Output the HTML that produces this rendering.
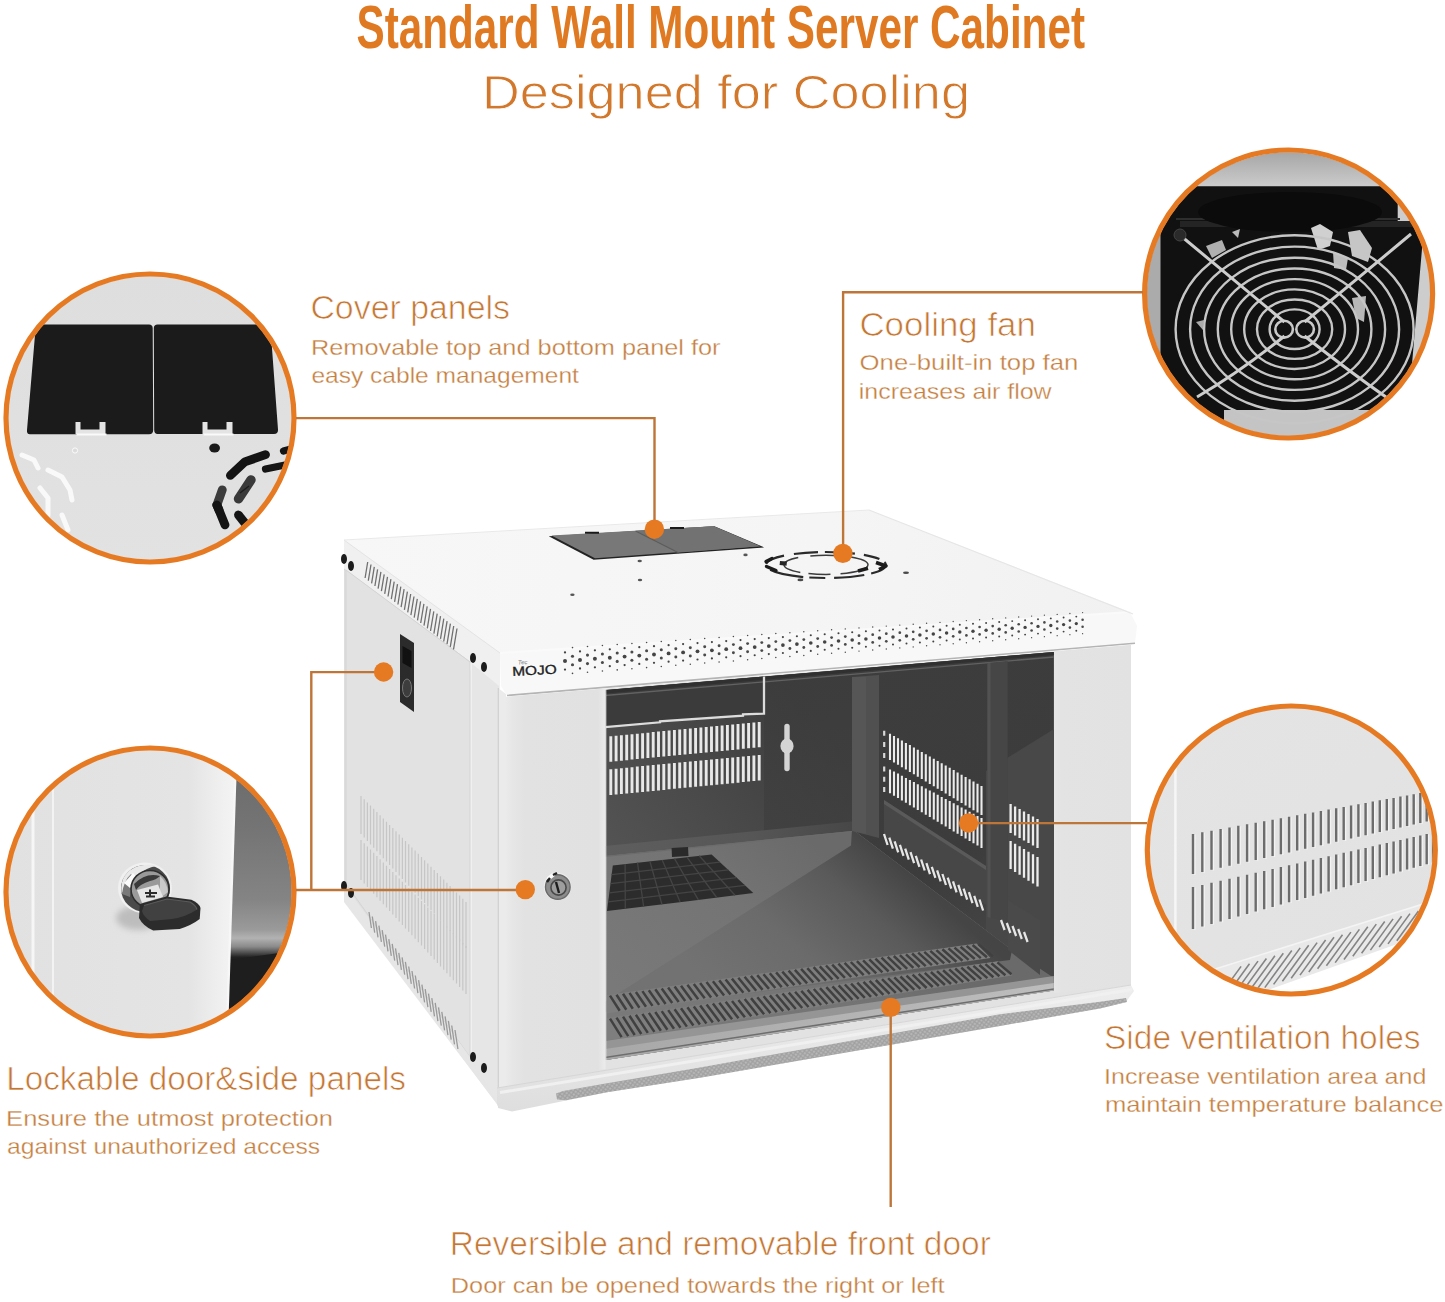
<!DOCTYPE html>
<html><head><meta charset="utf-8"><title>Standard Wall Mount Server Cabinet</title>
<style>
html,body{margin:0;padding:0;background:#fff;}
body{width:1445px;height:1302px;overflow:hidden;font-family:"Liberation Sans",sans-serif;}
svg{display:block;position:absolute;left:0;top:0;}
text{font-family:"Liberation Sans",sans-serif;}
</style></head><body>
<svg width="1445" height="1302" viewBox="0 0 1445 1302">
<defs>
<linearGradient id="gTop" x1="344" y1="540" x2="1130" y2="640" gradientUnits="userSpaceOnUse"><stop offset="0" stop-color="#f7f7f7"/><stop offset="0.6" stop-color="#f5f5f5"/><stop offset="1" stop-color="#f1f1f1"/></linearGradient>
<linearGradient id="gSide" x1="344" y1="700" x2="500" y2="700" gradientUnits="userSpaceOnUse"><stop offset="0" stop-color="#dedede"/><stop offset="0.5" stop-color="#e2e2e2"/><stop offset="1" stop-color="#e3e3e3"/></linearGradient>
<linearGradient id="gDoorL" x1="505" y1="0" x2="605" y2="0" gradientUnits="userSpaceOnUse"><stop offset="0" stop-color="#ebebeb"/><stop offset="0.08" stop-color="#e6e6e6"/><stop offset="0.2" stop-color="#e2e2e2"/><stop offset="0.93" stop-color="#e1e1e1"/><stop offset="1" stop-color="#ebebeb"/></linearGradient>
<linearGradient id="gDoorR" x1="1054" y1="0" x2="1131" y2="0" gradientUnits="userSpaceOnUse"><stop offset="0" stop-color="#e6e6e6"/><stop offset="0.1" stop-color="#e3e3e3"/><stop offset="1" stop-color="#e2e2e2"/></linearGradient>
<linearGradient id="gBack" x1="605" y1="860" x2="800" y2="700" gradientUnits="userSpaceOnUse"><stop offset="0" stop-color="#545454"/><stop offset="0.45" stop-color="#4a4a4a"/><stop offset="1" stop-color="#3d3d3d"/></linearGradient>
<linearGradient id="gBackR" x1="764" y1="680" x2="800" y2="840" gradientUnits="userSpaceOnUse"><stop offset="0" stop-color="#3c3c3c"/><stop offset="1" stop-color="#3f3f3f"/></linearGradient>
<linearGradient id="gRight" x1="851" y1="660" x2="1053" y2="960" gradientUnits="userSpaceOnUse"><stop offset="0" stop-color="#3d3d3d"/><stop offset="0.6" stop-color="#3c3c3c"/><stop offset="1" stop-color="#484848"/></linearGradient>
<linearGradient id="gFloor" x1="800" y1="830" x2="640" y2="1010" gradientUnits="userSpaceOnUse"><stop offset="0" stop-color="#6a6a6a"/><stop offset="0.4" stop-color="#747474"/><stop offset="1" stop-color="#797979"/></linearGradient>
<linearGradient id="gShadow" x1="880" y1="850" x2="740" y2="1010" gradientUnits="userSpaceOnUse"><stop offset="0" stop-color="#454545"/><stop offset="0.25" stop-color="#5a5a5a"/><stop offset="0.6" stop-color="#6b6b6b"/><stop offset="1" stop-color="#727272"/></linearGradient>
<linearGradient id="gLedge" x1="605" y1="0" x2="852" y2="0" gradientUnits="userSpaceOnUse"><stop offset="0" stop-color="#5e5e5e"/><stop offset="0.6" stop-color="#565656"/><stop offset="1" stop-color="#474747"/></linearGradient>
<linearGradient id="gStrip" x1="605" y1="0" x2="1054" y2="0" gradientUnits="userSpaceOnUse"><stop offset="0" stop-color="#a8a8a8"/><stop offset="1" stop-color="#bdbdbd"/></linearGradient>
<linearGradient id="gBase" x1="0" y1="0" x2="0" y2="1" ><stop offset="0" stop-color="#ededed"/><stop offset="0.5" stop-color="#e6e6e6"/><stop offset="1" stop-color="#dedede"/></linearGradient>
<clipPath id="glass"><polygon points="605.8,690.0 1053.8,652.0 1053.8,990.5 605.8,1060.0"/></clipPath>
<pattern id="mesh" width="4.6" height="4.6" patternUnits="userSpaceOnUse" patternTransform="rotate(-9)"><rect width="4.6" height="4.6" fill="#b9b9b9"/><path d="M0 0L4.6 4.6M4.6 0L0 4.6" stroke="#a0a0a0" stroke-width="1.2"/></pattern>
<clipPath id="c1"><circle cx="150" cy="418" r="141.8"/></clipPath>
<linearGradient id="g1" x1="0" y1="270" x2="0" y2="566" gradientUnits="userSpaceOnUse"><stop offset="0" stop-color="#dedede"/><stop offset="0.5" stop-color="#e0e0e0"/><stop offset="1" stop-color="#e2e2e2"/></linearGradient>
<clipPath id="c2"><circle cx="1288.6" cy="294.0" r="141.8"/></clipPath>
<linearGradient id="g2t" x1="0" y1="150" x2="0" y2="187" gradientUnits="userSpaceOnUse"><stop offset="0" stop-color="#a4a4a4"/><stop offset="1" stop-color="#cccccc"/></linearGradient>
<clipPath id="c3"><circle cx="150" cy="892" r="141.8"/></clipPath>
<linearGradient id="g3" x1="0" y1="0" x2="236" y2="0" gradientUnits="userSpaceOnUse"><stop offset="0" stop-color="#e1e1e1"/><stop offset="0.8" stop-color="#e4e4e4"/><stop offset="0.93" stop-color="#efefef"/><stop offset="1" stop-color="#f4f4f4"/></linearGradient>
<linearGradient id="g3r" x1="0" y1="770" x2="0" y2="960" gradientUnits="userSpaceOnUse"><stop offset="0" stop-color="#6c6c6c"/><stop offset="0.3" stop-color="#747474"/><stop offset="0.68" stop-color="#848484"/><stop offset="0.84" stop-color="#9a9a9a"/><stop offset="0.885" stop-color="#b2b2b2"/><stop offset="0.93" stop-color="#8a8a8a"/><stop offset="0.985" stop-color="#222222"/><stop offset="1" stop-color="#1e1e1e"/></linearGradient>
<filter id="blur3" x="-30%" y="-30%" width="160%" height="160%"><feGaussianBlur stdDeviation="3"/></filter>
<clipPath id="c4"><circle cx="1291.3" cy="850.0" r="141.8"/></clipPath>
<linearGradient id="g4" x1="1146" y1="706" x2="1440" y2="996" gradientUnits="userSpaceOnUse"><stop offset="0" stop-color="#e4e4e4"/><stop offset="1" stop-color="#e2e2e2"/></linearGradient>
</defs>
<rect width="1445" height="1302" fill="#ffffff"/>
<polygon points="344.0,540.0 500.0,653.0 500.0,1108.0 344.0,900.0" fill="url(#gSide)" />
<polygon points="344.0,540.0 500.0,653.0 500.0,694.0 344.0,569.0" fill="#f0f0f0" />
<path d="M344 569L470 662" stroke="#d6d6d6" stroke-width="1"/>
<polygon points="346.0,570.0 470.0,662.0 470.0,1057.0 346.0,884.0" fill="#e2e2e2" stroke="#d4d4d4" stroke-width="1"/>
<polygon points="344.0,884.0 470.0,1057.0 500.0,1108.0 344.0,902.0" fill="#e6e6e6" />
<polygon points="471.0,663.0 499.0,686.0 499.0,1106.0 471.0,1060.0" fill="#e6e6e6" />
<path d="M471.3 663V1060" stroke="#f0f0f0" stroke-width="1.4"/>
<polygon points="498.0,688.0 506.0,694.0 506.0,1088.0 498.0,1106.0" fill="#ebebeb" />
<path d="M498.3 688V1106" stroke="#d0d0d0" stroke-width="1.2"/>
<path d="M367.7 562.0l-2.6 16.0M371.0 564.5l-2.7 16.2M374.3 566.9l-2.7 16.4M377.6 569.4l-2.7 16.6M380.9 571.9l-2.8 16.7M384.2 574.3l-2.8 16.9M387.5 576.8l-2.8 17.1M390.9 579.2l-2.9 17.3M394.2 581.7l-2.9 17.5M397.5 584.2l-2.9 17.7M400.8 586.6l-2.9 17.9M404.1 589.1l-3.0 18.0M407.4 591.6l-3.0 18.2M410.7 594.0l-3.0 18.4M414.0 596.5l-3.1 18.6M417.3 598.9l-3.1 18.8M420.6 601.4l-3.1 19.0M423.9 603.9l-3.2 19.1M427.2 606.3l-3.2 19.3M430.5 608.8l-3.2 19.5M433.8 611.3l-3.3 19.7M437.2 613.7l-3.3 19.9M440.5 616.2l-3.3 20.1M443.8 618.6l-3.3 20.3M447.1 621.1l-3.4 20.4M450.4 623.6l-3.4 20.6M453.7 626.0l-3.4 20.8M457.0 628.5l-3.5 21.0" stroke="#707070" stroke-width="1.3" fill="none"/>
<path d="M369.0 912.0l2.4 16.0M372.3 916.5l2.4 16.1M375.6 921.1l2.4 16.2M378.9 925.6l2.5 16.3M382.2 930.2l2.5 16.5M385.5 934.7l2.5 16.6M388.8 939.2l2.5 16.7M392.2 943.8l2.5 16.8M395.5 948.3l2.5 16.9M398.8 952.8l2.6 17.0M402.1 957.4l2.6 17.2M405.4 961.9l2.6 17.3M408.7 966.5l2.6 17.4M412.0 971.0l2.6 17.5M415.3 975.5l2.6 17.6M418.6 980.1l2.7 17.7M421.9 984.6l2.7 17.8M425.2 989.2l2.7 18.0M428.5 993.7l2.7 18.1M431.8 998.2l2.7 18.2M435.2 1002.8l2.7 18.3M438.5 1007.3l2.8 18.4M441.8 1011.8l2.8 18.5M445.1 1016.4l2.8 18.7M448.4 1020.9l2.8 18.8M451.7 1025.5l2.8 18.9M455.0 1030.0l2.9 19.0" stroke="#9a9a9a" stroke-width="1.3" fill="none"/>
<path d="M361.0 796.0V834.0M364.2 799.2V837.5M367.4 802.4V840.9M370.5 805.6V844.4M373.7 808.8V847.8M376.9 812.1V851.3M380.1 815.3V854.7M383.3 818.5V858.2M386.5 821.7V861.6M389.6 824.9V865.1M392.8 828.1V868.5M396.0 831.3V872.0M399.2 834.5V875.5M402.4 837.8V878.9M405.5 841.0V882.4M408.7 844.2V885.8M411.9 847.4V889.3M415.1 850.6V892.7M418.3 853.8V896.2M421.5 857.0V899.6M424.6 860.2V903.1M427.8 863.5V906.5M431.0 866.7V910.0M434.2 869.9V913.5M437.4 873.1V916.9M440.5 876.3V920.4M443.7 879.5V923.8M446.9 882.7V927.3M450.1 885.9V930.7M453.3 889.2V934.2M456.5 892.4V937.6M459.6 895.6V941.1M462.8 898.8V944.5M466.0 902.0V948.0" stroke="#c6c6c6" stroke-width="1.2" fill="none"/>
<path d="M361.0 840.0V880.0M364.2 843.2V883.5M367.4 846.4V886.9M370.5 849.6V890.4M373.7 852.8V893.8M376.9 856.1V897.3M380.1 859.3V900.7M383.3 862.5V904.2M386.5 865.7V907.6M389.6 868.9V911.1M392.8 872.1V914.5M396.0 875.3V918.0M399.2 878.5V921.5M402.4 881.8V924.9M405.5 885.0V928.4M408.7 888.2V931.8M411.9 891.4V935.3M415.1 894.6V938.7M418.3 897.8V942.2M421.5 901.0V945.6M424.6 904.2V949.1M427.8 907.5V952.5M431.0 910.7V956.0M434.2 913.9V959.5M437.4 917.1V962.9M440.5 920.3V966.4M443.7 923.5V969.8M446.9 926.7V973.3M450.1 929.9V976.7M453.3 933.2V980.2M456.5 936.4V983.6M459.6 939.6V987.1M462.8 942.8V990.5M466.0 946.0V994.0" stroke="#c6c6c6" stroke-width="1.2" fill="none"/>
<polygon points="400.0,634.0 414.0,643.0 414.0,712.0 400.0,702.0" fill="#2b2b2b" />
<polygon points="402.5,646.0 411.5,651.0 411.5,668.0 402.5,663.0" fill="#111" />
<ellipse cx="407" cy="688" rx="4.5" ry="9" fill="#3d3d3d" stroke="#777" stroke-width="1"/>
<ellipse cx="344" cy="559" rx="3.0" ry="5.0" fill="#1c1c1c"/>
<ellipse cx="351" cy="566" rx="3.0" ry="5.0" fill="#1c1c1c"/>
<ellipse cx="473" cy="658" rx="3.0" ry="5.0" fill="#1c1c1c"/>
<ellipse cx="484" cy="667" rx="3.0" ry="5.0" fill="#1c1c1c"/>
<ellipse cx="344" cy="886" rx="3.0" ry="5.0" fill="#1c1c1c"/>
<ellipse cx="351" cy="893" rx="3.0" ry="5.0" fill="#1c1c1c"/>
<ellipse cx="473" cy="1057" rx="3.0" ry="5.0" fill="#1c1c1c"/>
<ellipse cx="484" cy="1068" rx="3.0" ry="5.0" fill="#1c1c1c"/>
<polygon points="344.0,540.0 869.0,510.0 1130.0,612.0 500.0,653.0" fill="url(#gTop)" />
<polygon points="500.0,653.0 1130.0,612.0 1137.0,626.0 1135.0,643.3 507.0,695.5 501.0,686.0" fill="#f8f8f8" />
<path d="M507 695.5L1135 643.3" stroke="#b4b4b4" stroke-width="1.6"/>
<path d="M500 653L1130 612" stroke="#fafafa" stroke-width="2"/>
<path d="M344 540L500 653" stroke="#e4e4e4" stroke-width="1"/>
<path d="M869 510L1133 614" stroke="#e6e6e6" stroke-width="1.2"/>
<path d="M344 540L869 510" stroke="#e9e9e9" stroke-width="1"/>
<polygon points="548.7,536.2 714.4,526.2 764.2,547.4 593.6,559.8" fill="#232323" />
<polygon points="551.5,535.6 713.5,526.3 760.0,546.3 595.0,558.2" fill="#787878" />
<polygon points="636.0,530.8 713.5,526.3 760.0,546.3 679.0,552.6" fill="#727272" />
<path d="M635.5 531L679 553" stroke="#5c5c5c" stroke-width="1.2"/>
<path d="M585 532.8h14M670 528h14" stroke="#1a1a1a" stroke-width="2"/>
<ellipse cx="639.7" cy="561" rx="2.2" ry="1.3" fill="#555"/>
<ellipse cx="572.4" cy="594.7" rx="2.2" ry="1.3" fill="#555"/>
<ellipse cx="745.5" cy="554.9" rx="2.2" ry="1.3" fill="#555"/>
<ellipse cx="640" cy="580" rx="2.2" ry="1.3" fill="#555"/>
<ellipse cx="825.9" cy="565" rx="60" ry="13" fill="none" stroke="#2a2a2a" stroke-width="2.2" stroke-dasharray="24 7 30 9 16 6 34 8 20 10" stroke-dashoffset="6"/>
<ellipse cx="826" cy="564.8" rx="42" ry="9.6" fill="none" stroke="#3c3c3c" stroke-width="1.5" stroke-dasharray="30 10 22 8 36 12"/>
<path d="M766 561.5L772 558.5M766.5 566.5L776 570.5" stroke="#1c1c1c" stroke-width="3.4" stroke-linecap="round"/>
<path d="M876 562.5L886 566L879 569.5M858 571L868 568.2" stroke="#1c1c1c" stroke-width="3.6" stroke-linejoin="round" fill="none"/>
<rect x="779.8" y="561.2" width="7" height="4.2" fill="#262626" transform="rotate(6 783 563)"/>
<ellipse cx="800.4" cy="579.9" rx="3" ry="1.3" fill="#4a4a4a"/>
<ellipse cx="906" cy="572.7" rx="3" ry="1.3" fill="#4a4a4a"/>
<circle cx="565.0" cy="661.0" r="2.00" fill="#444"/>
<circle cx="565.0" cy="652.4" r="1.15" fill="#444"/>
<circle cx="565.0" cy="669.6" r="1.15" fill="#444"/>
<circle cx="572.5" cy="656.2" r="1.55" fill="#4a4a4a"/>
<circle cx="572.5" cy="664.8" r="1.55" fill="#4a4a4a"/>
<circle cx="572.5" cy="647.6" r="0.80" fill="#4a4a4a"/>
<circle cx="572.5" cy="673.4" r="0.80" fill="#4a4a4a"/>
<circle cx="580.0" cy="659.9" r="1.99" fill="#444"/>
<circle cx="580.0" cy="651.4" r="1.14" fill="#444"/>
<circle cx="580.0" cy="668.5" r="1.14" fill="#444"/>
<circle cx="587.5" cy="655.1" r="1.54" fill="#4a4a4a"/>
<circle cx="587.5" cy="663.6" r="1.54" fill="#4a4a4a"/>
<circle cx="587.5" cy="646.5" r="0.80" fill="#4a4a4a"/>
<circle cx="587.5" cy="672.2" r="0.80" fill="#4a4a4a"/>
<circle cx="594.9" cy="658.8" r="1.98" fill="#444"/>
<circle cx="594.9" cy="650.3" r="1.14" fill="#444"/>
<circle cx="594.9" cy="667.3" r="1.14" fill="#444"/>
<circle cx="602.4" cy="654.0" r="1.53" fill="#4a4a4a"/>
<circle cx="602.4" cy="662.5" r="1.53" fill="#4a4a4a"/>
<circle cx="602.4" cy="645.5" r="0.79" fill="#4a4a4a"/>
<circle cx="602.4" cy="671.0" r="0.79" fill="#4a4a4a"/>
<circle cx="609.8" cy="657.7" r="1.97" fill="#444"/>
<circle cx="609.8" cy="649.3" r="1.13" fill="#444"/>
<circle cx="609.8" cy="666.2" r="1.13" fill="#444"/>
<circle cx="617.2" cy="653.0" r="1.53" fill="#4a4a4a"/>
<circle cx="617.2" cy="661.4" r="1.53" fill="#4a4a4a"/>
<circle cx="617.2" cy="644.5" r="0.79" fill="#4a4a4a"/>
<circle cx="617.2" cy="669.9" r="0.79" fill="#4a4a4a"/>
<circle cx="624.6" cy="656.6" r="1.96" fill="#444"/>
<circle cx="624.6" cy="648.2" r="1.13" fill="#444"/>
<circle cx="624.6" cy="665.1" r="1.13" fill="#444"/>
<circle cx="631.9" cy="651.9" r="1.52" fill="#4a4a4a"/>
<circle cx="631.9" cy="660.3" r="1.52" fill="#4a4a4a"/>
<circle cx="631.9" cy="643.5" r="0.78" fill="#4a4a4a"/>
<circle cx="631.9" cy="668.7" r="0.78" fill="#4a4a4a"/>
<circle cx="639.3" cy="655.6" r="1.95" fill="#444"/>
<circle cx="639.3" cy="647.2" r="1.12" fill="#444"/>
<circle cx="639.3" cy="663.9" r="1.12" fill="#444"/>
<circle cx="646.6" cy="650.8" r="1.51" fill="#4a4a4a"/>
<circle cx="646.6" cy="659.2" r="1.51" fill="#4a4a4a"/>
<circle cx="646.6" cy="642.5" r="0.78" fill="#4a4a4a"/>
<circle cx="646.6" cy="667.6" r="0.78" fill="#4a4a4a"/>
<circle cx="654.0" cy="654.5" r="1.94" fill="#444"/>
<circle cx="654.0" cy="646.2" r="1.11" fill="#444"/>
<circle cx="654.0" cy="662.8" r="1.11" fill="#444"/>
<circle cx="661.3" cy="649.8" r="1.50" fill="#4a4a4a"/>
<circle cx="661.3" cy="658.1" r="1.50" fill="#4a4a4a"/>
<circle cx="661.3" cy="641.5" r="0.78" fill="#4a4a4a"/>
<circle cx="661.3" cy="666.5" r="0.78" fill="#4a4a4a"/>
<circle cx="668.6" cy="653.4" r="1.93" fill="#444"/>
<circle cx="668.6" cy="645.2" r="1.11" fill="#444"/>
<circle cx="668.6" cy="661.7" r="1.11" fill="#444"/>
<circle cx="675.8" cy="648.8" r="1.49" fill="#4a4a4a"/>
<circle cx="675.8" cy="657.0" r="1.49" fill="#4a4a4a"/>
<circle cx="675.8" cy="640.5" r="0.77" fill="#4a4a4a"/>
<circle cx="675.8" cy="665.3" r="0.77" fill="#4a4a4a"/>
<circle cx="683.1" cy="652.4" r="1.92" fill="#444"/>
<circle cx="683.1" cy="644.1" r="1.10" fill="#444"/>
<circle cx="683.1" cy="660.6" r="1.10" fill="#444"/>
<circle cx="690.3" cy="647.7" r="1.49" fill="#4a4a4a"/>
<circle cx="690.3" cy="656.0" r="1.49" fill="#4a4a4a"/>
<circle cx="690.3" cy="639.5" r="0.77" fill="#4a4a4a"/>
<circle cx="690.3" cy="664.2" r="0.77" fill="#4a4a4a"/>
<circle cx="697.5" cy="651.3" r="1.91" fill="#444"/>
<circle cx="697.5" cy="643.1" r="1.10" fill="#444"/>
<circle cx="697.5" cy="659.5" r="1.10" fill="#444"/>
<circle cx="704.7" cy="646.7" r="1.48" fill="#4a4a4a"/>
<circle cx="704.7" cy="654.9" r="1.48" fill="#4a4a4a"/>
<circle cx="704.7" cy="638.5" r="0.76" fill="#4a4a4a"/>
<circle cx="704.7" cy="663.1" r="0.76" fill="#4a4a4a"/>
<circle cx="711.9" cy="650.3" r="1.90" fill="#444"/>
<circle cx="711.9" cy="642.1" r="1.09" fill="#444"/>
<circle cx="711.9" cy="658.4" r="1.09" fill="#444"/>
<circle cx="719.1" cy="645.7" r="1.47" fill="#4a4a4a"/>
<circle cx="719.1" cy="653.8" r="1.47" fill="#4a4a4a"/>
<circle cx="719.1" cy="637.5" r="0.76" fill="#4a4a4a"/>
<circle cx="719.1" cy="662.0" r="0.76" fill="#4a4a4a"/>
<circle cx="726.2" cy="649.2" r="1.89" fill="#444"/>
<circle cx="726.2" cy="641.1" r="1.09" fill="#444"/>
<circle cx="726.2" cy="657.3" r="1.09" fill="#444"/>
<circle cx="733.4" cy="644.6" r="1.46" fill="#4a4a4a"/>
<circle cx="733.4" cy="652.7" r="1.46" fill="#4a4a4a"/>
<circle cx="733.4" cy="636.5" r="0.76" fill="#4a4a4a"/>
<circle cx="733.4" cy="660.9" r="0.76" fill="#4a4a4a"/>
<circle cx="740.5" cy="648.2" r="1.88" fill="#444"/>
<circle cx="740.5" cy="640.1" r="1.08" fill="#444"/>
<circle cx="740.5" cy="656.2" r="1.08" fill="#444"/>
<circle cx="747.6" cy="643.6" r="1.46" fill="#4a4a4a"/>
<circle cx="747.6" cy="651.7" r="1.46" fill="#4a4a4a"/>
<circle cx="747.6" cy="635.6" r="0.75" fill="#4a4a4a"/>
<circle cx="747.6" cy="659.7" r="0.75" fill="#4a4a4a"/>
<circle cx="754.7" cy="647.1" r="1.87" fill="#444"/>
<circle cx="754.7" cy="639.1" r="1.07" fill="#444"/>
<circle cx="754.7" cy="655.2" r="1.07" fill="#444"/>
<circle cx="761.8" cy="642.6" r="1.45" fill="#4a4a4a"/>
<circle cx="761.8" cy="650.6" r="1.45" fill="#4a4a4a"/>
<circle cx="761.8" cy="634.6" r="0.75" fill="#4a4a4a"/>
<circle cx="761.8" cy="658.6" r="0.75" fill="#4a4a4a"/>
<circle cx="768.8" cy="646.1" r="1.86" fill="#444"/>
<circle cx="768.8" cy="638.1" r="1.07" fill="#444"/>
<circle cx="768.8" cy="654.1" r="1.07" fill="#444"/>
<circle cx="775.8" cy="641.6" r="1.44" fill="#4a4a4a"/>
<circle cx="775.8" cy="649.6" r="1.44" fill="#4a4a4a"/>
<circle cx="775.8" cy="633.6" r="0.74" fill="#4a4a4a"/>
<circle cx="775.8" cy="657.6" r="0.74" fill="#4a4a4a"/>
<circle cx="782.9" cy="645.1" r="1.85" fill="#444"/>
<circle cx="782.9" cy="637.1" r="1.06" fill="#444"/>
<circle cx="782.9" cy="653.0" r="1.06" fill="#444"/>
<circle cx="789.9" cy="640.6" r="1.43" fill="#4a4a4a"/>
<circle cx="789.9" cy="648.5" r="1.43" fill="#4a4a4a"/>
<circle cx="789.9" cy="632.7" r="0.74" fill="#4a4a4a"/>
<circle cx="789.9" cy="656.5" r="0.74" fill="#4a4a4a"/>
<circle cx="796.9" cy="644.1" r="1.84" fill="#444"/>
<circle cx="796.9" cy="636.2" r="1.06" fill="#444"/>
<circle cx="796.9" cy="651.9" r="1.06" fill="#444"/>
<circle cx="803.8" cy="639.6" r="1.43" fill="#4a4a4a"/>
<circle cx="803.8" cy="647.5" r="1.43" fill="#4a4a4a"/>
<circle cx="803.8" cy="631.7" r="0.74" fill="#4a4a4a"/>
<circle cx="803.8" cy="655.4" r="0.74" fill="#4a4a4a"/>
<circle cx="810.8" cy="643.0" r="1.83" fill="#444"/>
<circle cx="810.8" cy="635.2" r="1.05" fill="#444"/>
<circle cx="810.8" cy="650.9" r="1.05" fill="#444"/>
<circle cx="817.7" cy="638.6" r="1.42" fill="#4a4a4a"/>
<circle cx="817.7" cy="646.5" r="1.42" fill="#4a4a4a"/>
<circle cx="817.7" cy="630.8" r="0.73" fill="#4a4a4a"/>
<circle cx="817.7" cy="654.3" r="0.73" fill="#4a4a4a"/>
<circle cx="824.7" cy="642.0" r="1.82" fill="#444"/>
<circle cx="824.7" cy="634.2" r="1.05" fill="#444"/>
<circle cx="824.7" cy="649.8" r="1.05" fill="#444"/>
<circle cx="831.6" cy="637.6" r="1.41" fill="#4a4a4a"/>
<circle cx="831.6" cy="645.4" r="1.41" fill="#4a4a4a"/>
<circle cx="831.6" cy="629.8" r="0.73" fill="#4a4a4a"/>
<circle cx="831.6" cy="653.2" r="0.73" fill="#4a4a4a"/>
<circle cx="838.5" cy="641.0" r="1.81" fill="#444"/>
<circle cx="838.5" cy="633.3" r="1.04" fill="#444"/>
<circle cx="838.5" cy="648.8" r="1.04" fill="#444"/>
<circle cx="845.3" cy="636.6" r="1.40" fill="#4a4a4a"/>
<circle cx="845.3" cy="644.4" r="1.40" fill="#4a4a4a"/>
<circle cx="845.3" cy="628.9" r="0.72" fill="#4a4a4a"/>
<circle cx="845.3" cy="652.2" r="0.72" fill="#4a4a4a"/>
<circle cx="852.2" cy="640.0" r="1.80" fill="#444"/>
<circle cx="852.2" cy="632.3" r="1.04" fill="#444"/>
<circle cx="852.2" cy="647.7" r="1.04" fill="#444"/>
<circle cx="859.0" cy="635.7" r="1.40" fill="#4a4a4a"/>
<circle cx="859.0" cy="643.4" r="1.40" fill="#4a4a4a"/>
<circle cx="859.0" cy="627.9" r="0.72" fill="#4a4a4a"/>
<circle cx="859.0" cy="651.1" r="0.72" fill="#4a4a4a"/>
<circle cx="865.9" cy="639.0" r="1.79" fill="#444"/>
<circle cx="865.9" cy="631.3" r="1.03" fill="#444"/>
<circle cx="865.9" cy="646.7" r="1.03" fill="#444"/>
<circle cx="872.7" cy="634.7" r="1.39" fill="#4a4a4a"/>
<circle cx="872.7" cy="642.4" r="1.39" fill="#4a4a4a"/>
<circle cx="872.7" cy="627.0" r="0.72" fill="#4a4a4a"/>
<circle cx="872.7" cy="650.0" r="0.72" fill="#4a4a4a"/>
<circle cx="879.5" cy="638.0" r="1.78" fill="#444"/>
<circle cx="879.5" cy="630.4" r="1.02" fill="#444"/>
<circle cx="879.5" cy="645.7" r="1.02" fill="#444"/>
<circle cx="886.3" cy="633.7" r="1.38" fill="#4a4a4a"/>
<circle cx="886.3" cy="641.3" r="1.38" fill="#4a4a4a"/>
<circle cx="886.3" cy="626.1" r="0.71" fill="#4a4a4a"/>
<circle cx="886.3" cy="649.0" r="0.71" fill="#4a4a4a"/>
<circle cx="893.0" cy="637.0" r="1.77" fill="#444"/>
<circle cx="893.0" cy="629.4" r="1.02" fill="#444"/>
<circle cx="893.0" cy="644.6" r="1.02" fill="#444"/>
<circle cx="899.8" cy="632.7" r="1.37" fill="#4a4a4a"/>
<circle cx="899.8" cy="640.3" r="1.37" fill="#4a4a4a"/>
<circle cx="899.8" cy="625.1" r="0.71" fill="#4a4a4a"/>
<circle cx="899.8" cy="647.9" r="0.71" fill="#4a4a4a"/>
<circle cx="906.5" cy="636.0" r="1.76" fill="#444"/>
<circle cx="906.5" cy="628.5" r="1.01" fill="#444"/>
<circle cx="906.5" cy="643.6" r="1.01" fill="#444"/>
<circle cx="913.2" cy="631.8" r="1.37" fill="#4a4a4a"/>
<circle cx="913.2" cy="639.3" r="1.37" fill="#4a4a4a"/>
<circle cx="913.2" cy="624.2" r="0.71" fill="#4a4a4a"/>
<circle cx="913.2" cy="646.9" r="0.71" fill="#4a4a4a"/>
<circle cx="919.9" cy="635.1" r="1.75" fill="#444"/>
<circle cx="919.9" cy="627.6" r="1.01" fill="#444"/>
<circle cx="919.9" cy="642.6" r="1.01" fill="#444"/>
<circle cx="926.6" cy="630.8" r="1.36" fill="#4a4a4a"/>
<circle cx="926.6" cy="638.3" r="1.36" fill="#4a4a4a"/>
<circle cx="926.6" cy="623.3" r="0.70" fill="#4a4a4a"/>
<circle cx="926.6" cy="645.8" r="0.70" fill="#4a4a4a"/>
<circle cx="933.3" cy="634.1" r="1.75" fill="#444"/>
<circle cx="933.3" cy="626.6" r="1.00" fill="#444"/>
<circle cx="933.3" cy="641.6" r="1.00" fill="#444"/>
<circle cx="940.0" cy="629.9" r="1.35" fill="#4a4a4a"/>
<circle cx="940.0" cy="637.3" r="1.35" fill="#4a4a4a"/>
<circle cx="940.0" cy="622.4" r="0.70" fill="#4a4a4a"/>
<circle cx="940.0" cy="644.8" r="0.70" fill="#4a4a4a"/>
<circle cx="946.6" cy="633.1" r="1.74" fill="#444"/>
<circle cx="946.6" cy="625.7" r="1.00" fill="#444"/>
<circle cx="946.6" cy="640.5" r="1.00" fill="#444"/>
<circle cx="953.2" cy="628.9" r="1.35" fill="#4a4a4a"/>
<circle cx="953.2" cy="636.3" r="1.35" fill="#4a4a4a"/>
<circle cx="953.2" cy="621.5" r="0.69" fill="#4a4a4a"/>
<circle cx="953.2" cy="643.8" r="0.69" fill="#4a4a4a"/>
<circle cx="959.8" cy="632.1" r="1.73" fill="#444"/>
<circle cx="959.8" cy="624.8" r="0.99" fill="#444"/>
<circle cx="959.8" cy="639.5" r="0.99" fill="#444"/>
<circle cx="966.4" cy="628.0" r="1.34" fill="#4a4a4a"/>
<circle cx="966.4" cy="635.4" r="1.34" fill="#4a4a4a"/>
<circle cx="966.4" cy="620.6" r="0.69" fill="#4a4a4a"/>
<circle cx="966.4" cy="642.7" r="0.69" fill="#4a4a4a"/>
<circle cx="973.0" cy="631.2" r="1.72" fill="#444"/>
<circle cx="973.0" cy="623.8" r="0.99" fill="#444"/>
<circle cx="973.0" cy="638.5" r="0.99" fill="#444"/>
<circle cx="979.6" cy="627.0" r="1.33" fill="#4a4a4a"/>
<circle cx="979.6" cy="634.4" r="1.33" fill="#4a4a4a"/>
<circle cx="979.6" cy="619.7" r="0.69" fill="#4a4a4a"/>
<circle cx="979.6" cy="641.7" r="0.69" fill="#4a4a4a"/>
<circle cx="986.1" cy="630.2" r="1.71" fill="#444"/>
<circle cx="986.1" cy="622.9" r="0.98" fill="#444"/>
<circle cx="986.1" cy="637.5" r="0.98" fill="#444"/>
<circle cx="992.7" cy="626.1" r="1.32" fill="#4a4a4a"/>
<circle cx="992.7" cy="633.4" r="1.32" fill="#4a4a4a"/>
<circle cx="992.7" cy="618.8" r="0.68" fill="#4a4a4a"/>
<circle cx="992.7" cy="640.7" r="0.68" fill="#4a4a4a"/>
<circle cx="999.2" cy="629.3" r="1.70" fill="#444"/>
<circle cx="999.2" cy="622.0" r="0.98" fill="#444"/>
<circle cx="999.2" cy="636.5" r="0.98" fill="#444"/>
<circle cx="1005.7" cy="625.2" r="1.32" fill="#4a4a4a"/>
<circle cx="1005.7" cy="632.4" r="1.32" fill="#4a4a4a"/>
<circle cx="1005.7" cy="617.9" r="0.68" fill="#4a4a4a"/>
<circle cx="1005.7" cy="639.7" r="0.68" fill="#4a4a4a"/>
<circle cx="1012.2" cy="628.3" r="1.69" fill="#444"/>
<circle cx="1012.2" cy="621.1" r="0.97" fill="#444"/>
<circle cx="1012.2" cy="635.5" r="0.97" fill="#444"/>
<circle cx="1018.7" cy="624.2" r="1.31" fill="#4a4a4a"/>
<circle cx="1018.7" cy="631.5" r="1.31" fill="#4a4a4a"/>
<circle cx="1018.7" cy="617.0" r="0.68" fill="#4a4a4a"/>
<circle cx="1018.7" cy="638.7" r="0.68" fill="#4a4a4a"/>
<circle cx="1025.1" cy="627.4" r="1.68" fill="#444"/>
<circle cx="1025.1" cy="620.2" r="0.97" fill="#444"/>
<circle cx="1025.1" cy="634.6" r="0.97" fill="#444"/>
<circle cx="1031.6" cy="623.3" r="1.30" fill="#4a4a4a"/>
<circle cx="1031.6" cy="630.5" r="1.30" fill="#4a4a4a"/>
<circle cx="1031.6" cy="616.1" r="0.67" fill="#4a4a4a"/>
<circle cx="1031.6" cy="637.7" r="0.67" fill="#4a4a4a"/>
<circle cx="1038.0" cy="626.4" r="1.67" fill="#444"/>
<circle cx="1038.0" cy="619.3" r="0.96" fill="#444"/>
<circle cx="1038.0" cy="633.6" r="0.96" fill="#444"/>
<circle cx="1044.4" cy="622.4" r="1.30" fill="#4a4a4a"/>
<circle cx="1044.4" cy="629.5" r="1.30" fill="#4a4a4a"/>
<circle cx="1044.4" cy="615.2" r="0.67" fill="#4a4a4a"/>
<circle cx="1044.4" cy="636.7" r="0.67" fill="#4a4a4a"/>
<circle cx="1050.8" cy="625.5" r="1.66" fill="#444"/>
<circle cx="1050.8" cy="618.4" r="0.96" fill="#444"/>
<circle cx="1050.8" cy="632.6" r="0.96" fill="#444"/>
<circle cx="1057.2" cy="621.5" r="1.29" fill="#4a4a4a"/>
<circle cx="1057.2" cy="628.6" r="1.29" fill="#4a4a4a"/>
<circle cx="1057.2" cy="614.4" r="0.67" fill="#4a4a4a"/>
<circle cx="1057.2" cy="635.7" r="0.67" fill="#4a4a4a"/>
<circle cx="1063.6" cy="624.6" r="1.65" fill="#444"/>
<circle cx="1063.6" cy="617.5" r="0.95" fill="#444"/>
<circle cx="1063.6" cy="631.6" r="0.95" fill="#444"/>
<circle cx="1069.9" cy="620.6" r="1.28" fill="#4a4a4a"/>
<circle cx="1069.9" cy="627.6" r="1.28" fill="#4a4a4a"/>
<circle cx="1069.9" cy="613.5" r="0.66" fill="#4a4a4a"/>
<circle cx="1069.9" cy="634.7" r="0.66" fill="#4a4a4a"/>
<circle cx="1076.3" cy="623.6" r="1.65" fill="#444"/>
<circle cx="1076.3" cy="616.6" r="0.95" fill="#444"/>
<circle cx="1076.3" cy="630.7" r="0.95" fill="#444"/>
<circle cx="1082.6" cy="619.7" r="1.28" fill="#4a4a4a"/>
<circle cx="1082.6" cy="626.7" r="1.28" fill="#4a4a4a"/>
<circle cx="1082.6" cy="612.6" r="0.66" fill="#4a4a4a"/>
<circle cx="1082.6" cy="633.7" r="0.66" fill="#4a4a4a"/>
<text x="512.5" y="676" font-size="13" font-weight="normal" fill="#1e1e1e" stroke="#1e1e1e" stroke-width="0.35" textLength="44.5" lengthAdjust="spacingAndGlyphs" transform="rotate(-3 512 676)">MOJO</text>
<text x="518" y="664.5" font-size="6" font-style="italic" fill="#777" transform="rotate(-3 518 664)">Tec</text>
<polygon points="505.0,697.0 1131.0,645.0 1131.0,985.0 505.0,1087.0" fill="#e2e2e2" />
<polygon points="505.0,697.0 605.5,688.5 605.5,1069.0 505.0,1087.0" fill="url(#gDoorL)" />
<polygon points="1054.0,651.5 1131.0,645.0 1131.0,985.0 1054.0,993.0" fill="url(#gDoorR)" />
<g clip-path="url(#glass)">
<rect x="600" y="640" width="460" height="430" fill="#6a6a6a"/>
<polygon points="605.0,690.0 852.0,669.0 852.0,829.0 605.0,854.0" fill="url(#gBack)" />
<polygon points="764.0,676.0 852.0,669.0 852.0,829.0 764.0,838.0" fill="url(#gBackR)" opacity="0.75"/>
<polygon points="605.0,690.0 764.0,676.0 764.0,713.4 743.0,714.5 659.0,721.5 605.0,726.6" fill="#3b3b3b" />
<polygon points="852.0,669.0 1054.0,650.0 1054.0,980.0 1012.0,950.0 852.0,829.0" fill="url(#gRight)" />
<polygon points="986.0,771.0 1054.0,729.0 1054.0,980.0 1012.0,950.0 986.0,930.0" fill="#484848" />
<polygon points="605.0,854.0 852.0,829.0 1012.0,950.0 1054.0,978.0 1054.0,995.0 605.0,1066.0" fill="url(#gFloor)" />
<polygon points="852.0,829.0 1012.0,950.0 1010.0,960.0 605.0,1012.0 605.0,1001.7 851.0,845.6" fill="url(#gShadow)" />
<polygon points="605.0,846.0 852.0,821.5 852.0,831.0 605.0,856.0" fill="url(#gLedge)" />
<path d="M605 856.5L852 831.5" stroke="#6c6c6c" stroke-width="1.2"/>
<polygon points="605.0,688.0 1054.0,650.0 1054.0,655.0 605.0,693.5" fill="#303030" />
<path d="M605 695.5L1054 657" stroke="#626262" stroke-width="1.3"/>
<polygon points="852.0,677.0 879.0,675.0 879.0,838.0 852.0,831.0" fill="#505050" />
<polygon points="852.0,677.0 866.0,677.0 866.0,834.0 852.0,831.0" fill="#565656" />
<polygon points="884.0,800.0 986.0,866.0 986.0,905.0 884.0,836.0" fill="#474747" />
<polygon points="884.0,800.0 986.0,866.0 986.0,870.0 884.0,804.0" fill="#5a5a5a" />
<polygon points="987.4,663.0 1007.7,661.0 1007.7,922.0 987.4,917.0" fill="#464646" />
<polygon points="987.4,663.0 990.5,663.0 990.5,918.0 987.4,917.0" fill="#525252" />
<polygon points="1008.0,900.0 1040.0,920.0 1040.0,975.0 1008.0,950.0" fill="#4a4a4a" />
<path d="M605 727.2L660 722.3V721.3L743 715.6V714.4L764 713.6V676" stroke="#dcdcdc" stroke-width="2.3" fill="none"/>
<path d="M610.8 736.2V761.7M616.1 735.7V761.2M621.4 735.2V760.7M626.7 734.7V760.2M632.0 734.2V759.6M637.3 733.7V759.1M642.6 733.2V758.6M647.9 732.7V758.1M653.2 732.1V757.6M658.5 731.6V757.1M663.8 731.1V756.6M669.1 730.6V756.0M674.4 730.1V755.5M679.7 729.6V755.0M685.0 729.1V754.5M690.3 728.6V754.0M695.6 728.0V753.5M700.9 727.5V753.0M706.2 727.0V752.4M711.5 726.5V751.9M716.8 726.0V751.4M722.1 725.5V750.9M727.4 725.0V750.4M732.7 724.5V749.9M738.0 723.9V749.4M743.3 723.4V748.8M748.6 722.9V748.3M753.9 722.4V747.8M759.2 721.9V747.3" stroke="#e8e8e8" stroke-width="2.9" fill="none" />
<path d="M610.8 769.2V795.0M616.1 768.7V794.5M621.4 768.2V794.0M626.7 767.7V793.5M632.0 767.2V792.9M637.3 766.6V792.4M642.6 766.1V791.9M647.9 765.6V791.4M653.2 765.1V790.9M658.5 764.6V790.4M663.8 764.1V789.9M669.1 763.6V789.3M674.4 763.1V788.8M679.7 762.5V788.3M685.0 762.0V787.8M690.3 761.5V787.3M695.6 761.0V786.8M700.9 760.5V786.3M706.2 760.0V785.7M711.5 759.5V785.2M716.8 759.0V784.7M722.1 758.4V784.2M727.4 757.9V783.7M732.7 757.4V783.2M738.0 756.9V782.7M743.3 756.4V782.1M748.6 755.9V781.6M753.9 755.4V781.1M759.2 754.9V780.6" stroke="#e8e8e8" stroke-width="2.9" fill="none" />
<path d="M787 726.5v42" stroke="#d4d4d4" stroke-width="5.4" stroke-linecap="round"/>
<ellipse cx="787" cy="746" rx="6.6" ry="7.4" fill="#d4d4d4"/>
<path d="M890.0 733.8V760.0M894.0 736.1V762.4M898.0 738.3V764.8M901.9 740.6V767.2M905.9 742.9V769.6M909.9 745.1V772.0M913.9 747.4V774.3M917.8 749.7V776.7M921.8 752.0V779.1M925.8 754.2V781.5M929.8 756.5V783.9M933.8 758.8V786.3M937.7 761.0V788.7M941.7 763.3V791.1M945.7 765.6V793.5M949.7 767.8V795.9M953.7 770.1V798.3M957.6 772.4V800.7M961.6 774.7V803.0M965.6 776.9V805.4M969.6 779.2V807.8M973.5 781.5V810.2M977.5 783.7V812.6M981.5 786.0V815.0" stroke="#ececec" stroke-width="2.1" fill="none" />
<path d="M890.0 769.4V793.3M894.0 771.5V795.7M898.0 773.6V798.1M901.9 775.7V800.4M905.9 777.9V802.8M909.9 780.0V805.2M913.9 782.1V807.6M917.8 784.2V809.9M921.8 786.3V812.3M925.8 788.4V814.7M929.8 790.5V817.1M933.8 792.6V819.5M937.7 794.8V821.8M941.7 796.9V824.2M945.7 799.0V826.6M949.7 801.1V829.0M953.7 803.2V831.4M957.6 805.3V833.7M961.6 807.4V836.1M965.6 809.5V838.5M969.6 811.7V840.9M973.5 813.8V843.2M977.5 815.9V845.6M981.5 818.0V848.0" stroke="#ececec" stroke-width="2.1" fill="none" />
<path d="M884.2 730.8v5M884.2 741.9v5M884.2 753.0v5M884.2 766.4v5M884.2 776.7v5M884.2 787.0v5" stroke="#d8d8d8" stroke-width="2.2"/>
<path d="M1010.6 804.0V833.0M1015.1 806.5V835.5M1019.6 809.0V838.0M1024.0 811.5V840.5M1028.5 814.0V843.0M1033.0 816.5V845.5M1037.5 819.0V848.0" stroke="#ececec" stroke-width="2.3" fill="none" />
<path d="M1010.6 841.0V869.0M1015.1 843.7V871.9M1019.6 846.3V874.8M1024.0 849.0V877.8M1028.5 851.7V880.7M1033.0 854.3V883.6M1037.5 857.0V886.5" stroke="#ececec" stroke-width="2.3" fill="none" />
<path d="M884.0 834.0l3.6 11M889.3 837.6l3.6 11M894.6 841.3l3.6 11M899.9 844.9l3.6 11M905.2 848.6l3.6 11M910.5 852.2l3.6 11M915.8 855.8l3.6 11M921.1 859.5l3.6 11M926.4 863.1l3.6 11M931.8 866.8l3.6 11M937.1 870.4l3.6 11M942.4 874.0l3.6 11M947.7 877.7l3.6 11M953.0 881.3l3.6 11M958.3 884.9l3.6 11M963.6 888.6l3.6 11M968.9 892.2l3.6 11M974.2 895.9l3.6 11M979.5 899.5l3.6 11" stroke="#e6e6e6" stroke-width="2.3" fill="none"/>
<path d="M1001.0 920.0l3.6 10M1006.8 923.0l3.6 10M1012.5 926.0l3.6 10M1018.2 929.0l3.6 10M1024.0 932.0l3.6 10" stroke="#e6e6e6" stroke-width="2.3" fill="none"/>
<polygon points="612.8,865.5 711.6,854.4 753.3,893.0 690.0,901.0 607.0,911.0" fill="#2c2c2c" />
<path d="M625.1 864.1L625.3 908.8M637.5 862.7L643.6 906.5M649.9 861.3L661.9 904.2M662.2 860.0L680.1 902.0M674.5 858.6L698.4 899.8M686.9 857.2L716.7 897.5M699.2 855.8L735.0 895.2M611.6 874.6L719.9 862.1M610.5 883.7L728.3 869.8M609.3 892.8L736.6 877.6M608.2 901.9L745.0 885.3" stroke="#444" stroke-width="1.3" fill="none"/>
<polygon points="671.6,848.0 688.0,847.0 688.5,856.0 672.0,857.0" fill="#2a2a2a" />
<polygon points="607.0,995.0 976.5,943.5 990.5,958.0 607.0,1013.5" fill="#7e7e7e" />
<path d="M610.0 995.6L619.7 1010.7M616.5 994.7L626.3 1009.7M623.0 993.8L632.8 1008.7M629.5 992.9L639.4 1007.8M635.9 992.0L646.0 1006.8M642.4 991.1L652.5 1005.9M648.8 990.2L659.1 1004.9M655.3 989.3L665.6 1004.0M661.7 988.4L672.2 1003.0M668.1 987.5L678.7 1002.1M674.6 986.6L685.2 1001.1M681.0 985.7L691.7 1000.2M687.4 984.8L698.2 999.2M693.8 983.9L704.7 998.3M700.1 983.0L711.1 997.4M706.5 982.1L717.6 996.4M712.9 981.2L724.1 995.5M719.2 980.4L730.5 994.5M725.6 979.5L736.9 993.6M731.9 978.6L743.4 992.7M738.3 977.7L749.8 991.7M744.6 976.8L756.2 990.8M750.9 975.9L762.6 989.9M757.2 975.1L769.0 988.9M763.5 974.2L775.3 988.0M769.8 973.3L781.7 987.1M776.1 972.4L788.1 986.2M782.3 971.6L794.4 985.2M788.6 970.7L800.8 984.3M794.9 969.8L807.1 983.4M801.1 968.9L813.4 982.5M807.3 968.1L819.7 981.5M813.6 967.2L826.1 980.6M819.8 966.3L832.4 979.7M826.0 965.5L838.6 978.8M832.2 964.6L844.9 977.9M838.4 963.7L851.2 977.0M844.6 962.9L857.4 976.1M850.8 962.0L863.7 975.2M856.9 961.2L869.9 974.2M863.1 960.3L876.2 973.3M869.3 959.4L882.4 972.4M875.4 958.6L888.6 971.5M881.5 957.7L894.8 970.6M887.7 956.9L901.0 969.7M893.8 956.0L907.2 968.8M899.9 955.2L913.4 967.9M906.0 954.3L919.6 967.0M912.1 953.5L925.7 966.1M918.2 952.6L931.9 965.2M924.3 951.8L938.0 964.3M930.3 950.9L944.2 963.4M936.4 950.1L950.3 962.6M942.4 949.2L956.4 961.7M948.5 948.4L962.5 960.8M954.5 947.6L968.6 959.9M960.6 946.7L974.7 959.0M966.6 945.9L980.8 958.1M972.6 945.0L986.9 957.2M978.6 944.2L992.9 956.4" stroke="#404040" stroke-width="2.5" fill="none"/>
<polygon points="607.0,1018.0 998.0,961.3 1012.0,975.5 607.0,1040.5" fill="#7e7e7e" />
<path d="M610.0 1018.6L621.6 1037.1M616.5 1017.6L628.2 1036.1M623.0 1016.7L634.7 1035.0M629.5 1015.7L641.3 1034.0M635.9 1014.8L647.8 1032.9M642.4 1013.9L654.4 1031.9M648.9 1012.9L660.9 1030.8M655.3 1012.0L667.4 1029.8M661.7 1011.1L674.0 1028.7M668.2 1010.1L680.5 1027.7M674.6 1009.2L686.9 1026.6M681.0 1008.3L693.4 1025.6M687.4 1007.3L699.9 1024.5M693.8 1006.4L706.4 1023.5M700.2 1005.5L712.8 1022.4M706.6 1004.6L719.3 1021.4M712.9 1003.6L725.7 1020.4M719.3 1002.7L732.1 1019.3M725.7 1001.8L738.5 1018.3M732.0 1000.9L744.9 1017.3M738.4 1000.0L751.3 1016.2M744.7 999.0L757.7 1015.2M751.0 998.1L764.1 1014.2M757.3 997.2L770.5 1013.1M763.6 996.3L776.8 1012.1M769.9 995.4L783.2 1011.1M776.2 994.5L789.5 1010.1M782.5 993.5L795.8 1009.0M788.8 992.6L802.2 1008.0M795.1 991.7L808.5 1007.0M801.3 990.8L814.8 1006.0M807.6 989.9L821.1 1005.0M813.8 989.0L827.3 1004.0M820.0 988.1L833.6 1003.0M826.3 987.2L839.9 1001.9M832.5 986.3L846.1 1000.9M838.7 985.4L852.4 999.9M844.9 984.5L858.6 998.9M851.1 983.6L864.8 997.9M857.3 982.7L871.0 996.9M863.5 981.8L877.2 995.9M869.6 980.9L883.4 994.9M875.8 980.0L889.6 993.9M882.0 979.1L895.8 992.9M888.1 978.2L902.0 991.9M894.3 977.3L908.1 990.9M900.4 976.5L914.3 989.9M906.5 975.6L920.4 988.9M912.6 974.7L926.6 988.0M918.7 973.8L932.7 987.0M924.8 972.9L938.8 986.0M930.9 972.0L944.9 985.0M937.0 971.1L951.0 984.0M943.1 970.3L957.1 983.0M949.2 969.4L963.2 982.1M955.2 968.5L969.2 981.1M961.3 967.6L975.3 980.1M967.3 966.7L981.3 979.1M973.4 965.9L987.4 978.1M979.4 965.0L993.4 977.2M985.4 964.1L999.4 976.2M991.4 963.3L1005.4 975.2M997.4 962.4L1011.4 974.3" stroke="#404040" stroke-width="2.5" fill="none"/>
<polygon points="605.0,1041.0 1054.0,976.0 1054.0,995.0 605.0,1066.0" fill="#959595" />
<polygon points="605.0,1049.0 1054.0,983.0 1054.0,995.0 605.0,1066.0" fill="url(#gStrip)" />
<path d="M605 1057.5L1054 989" stroke="#6e6e6e" stroke-width="1.6"/>
</g>
<path d="M605.8 690V1060" stroke="#ededed" stroke-width="1"/>
<circle cx="557.5" cy="886.5" r="13.8" fill="#ececec"/>
<circle cx="557.8" cy="887" r="12.3" fill="#8c8c8c" stroke="#6a6a6a" stroke-width="1.4"/>
<circle cx="558.5" cy="887.5" r="7.6" fill="#9e9e9e" stroke="#4a4a4a" stroke-width="1.6"/>
<path d="M548 879l6 -5" stroke="#fbfbfb" stroke-width="4"/>
<path d="M547 882l3 -4M553 875l4 -2" stroke="#222" stroke-width="2.4"/>
<path d="M556 882l3 11" stroke="#1e1e1e" stroke-width="2.4"/>
<polygon points="497.0,1088.0 1131.0,985.0 1134.0,991.0 1126.0,1002.0 1100.0,1008.4 1000.0,1026.0 700.0,1077.8 607.0,1092.3 512.0,1111.5 498.0,1108.0" fill="url(#gBase)" />
<path d="M497 1088L1131 985" stroke="#d6d6d6" stroke-width="1.0"/>
<path d="M500 1092.5L1132 989.5" stroke="#f0f0f0" stroke-width="3"/>
<polygon points="556.0,1093.5 563.0,1091.0 607.0,1083.3 700.0,1067.4 1000.0,1014.3 1100.0,1001.7 1126.0,998.0 1127.0,1002.0 1100.0,1008.4 1000.0,1026.0 700.0,1077.8 607.0,1092.3 566.0,1100.3 557.0,1099.5" fill="url(#mesh)" />
<g clip-path="url(#c1)">
<rect x="0" y="268" width="300" height="300" fill="url(#g1)"/>
<path d="M40 324.4H149Q152.6 324.4 152.7 328L153.2 430Q153.2 434.2 149 434.2H30Q26.5 434.2 27 430L35.5 329Q36 324.4 40 324.4Z" fill="#1b1b1b"/>
<path d="M157.6 324.4H266Q270 324.4 270.5 328L278 429.5Q278.3 434 274 434H158Q154.2 434.2 154.2 430L153.8 328Q153.9 324.4 157.6 324.4Z" fill="#1b1b1b"/>
<rect x="75.5" y="422" width="30" height="12" fill="#e4e4e4"/>
<rect x="80.5" y="422" width="19" height="7.5" fill="#1b1b1b"/>
<path d="M76.5 434.5h30" stroke="#fafafa" stroke-width="2"/>
<rect x="202.5" y="422" width="30" height="12" fill="#e4e4e4"/>
<rect x="207.5" y="422" width="19" height="7.5" fill="#1b1b1b"/>
<path d="M203.5 434.5h30" stroke="#fafafa" stroke-width="2"/>
<circle cx="75" cy="450.5" r="2.6" fill="#dcdcdc" stroke="#fafafa" stroke-width="1"/>
<ellipse cx="214.6" cy="448" rx="5.4" ry="4.6" fill="#1a1a1a"/>
<path d="M230.4 475.4L244.8 461.9L265.5 454.7" stroke="#141414" stroke-width="8.8" stroke-linecap="round" stroke-linejoin="round" fill="none"/>
<path d="M265.5 469L290 464" stroke="#141414" stroke-width="7.2" stroke-linecap="round" stroke-linejoin="round" fill="none"/>
<path d="M283.5 451L296 447.5" stroke="#141414" stroke-width="7.2" stroke-linecap="round" stroke-linejoin="round" fill="none"/>
<path d="M216.9 505L225 524.9" stroke="#141414" stroke-width="8.8" stroke-linecap="round" stroke-linejoin="round" fill="none"/>
<path d="M222.3 489.8L216.9 505" stroke="#3c3c3c" stroke-width="8.8" stroke-linecap="round" fill="none"/>
<path d="M216.9 505L219 510" stroke="#141414" stroke-width="8.8" stroke-linecap="round" stroke-linejoin="round" fill="none"/>
<path d="M238.5 515L246 524.5" stroke="#141414" stroke-width="8.8" stroke-linecap="round" stroke-linejoin="round" fill="none"/>
<path d="M238.5 498.8L251 479.9" stroke="#3a3a3a" stroke-width="9.4" stroke-linecap="round" fill="none"/>
<path d="M240 493L249 486" stroke="#1c1c1c" stroke-width="1.4" fill="none"/>
<path d="M22 455L34 460L38 468" stroke="#f9f9f9" stroke-width="5" stroke-linecap="round" stroke-linejoin="round" fill="none"/>
<path d="M48 470L62 477L70 490L72 500" stroke="#f9f9f9" stroke-width="5" stroke-linecap="round" stroke-linejoin="round" fill="none"/>
<path d="M40 488L48 498L48 515" stroke="#f9f9f9" stroke-width="5" stroke-linecap="round" stroke-linejoin="round" fill="none"/>
<path d="M62 515L68 530" stroke="#f9f9f9" stroke-width="5" stroke-linecap="round" stroke-linejoin="round" fill="none"/>
</g>
<circle cx="150" cy="418" r="144.0" fill="none" stroke="#E57A23" stroke-width="5.2"/>
<g clip-path="url(#c2)">
<rect x="1140" y="145" width="300" height="300" fill="url(#g2t)"/>
<rect x="1397" y="186" width="50" height="260" fill="#cdcdcd"/>
<polygon points="1160.0,186.2 1397.7,186.2 1397.7,221.0 1424.0,226.0 1408.0,410.0 1224.0,410.0 1224.0,445.0 1160.0,445.0" fill="#111111" />
<rect x="1140" y="186" width="20.5" height="260" fill="#ababab"/>
<path d="M1176 219H1400" stroke="#2e2e2e" stroke-width="2"/>
<path d="M1180 224H1420" stroke="#242424" stroke-width="6"/>
<ellipse cx="1290" cy="212" rx="92" ry="20" fill="#0b0b0b"/>
<rect x="1224" y="410" width="220" height="40" fill="#c4c4c4"/>
<polygon points="1311.0,228.0 1320.0,224.0 1333.0,232.0 1330.0,246.0 1318.0,250.0" fill="#d0d0d0" />
<polygon points="1348.0,232.0 1360.0,230.0 1372.0,248.0 1368.0,262.0 1352.0,256.0" fill="#c6c6c6" />
<polygon points="1333.0,252.0 1348.0,258.0 1346.0,270.0 1334.0,268.0" fill="#bdbdbd" />
<polygon points="1206.0,246.0 1222.0,240.0 1226.0,250.0 1212.0,258.0" fill="#b0b0b0" />
<polygon points="1232.0,232.0 1240.0,229.0 1238.0,238.0" fill="#bbbbbb" />
<polygon points="1352.0,298.0 1366.0,296.0 1364.0,322.0 1356.0,318.0" fill="#b8b8b8" />
<polygon points="1196.0,322.0 1204.0,320.0 1203.0,330.0" fill="#aaaaaa" />
<ellipse cx="1294.6" cy="329.2" rx="119" ry="94.0" fill="none" stroke="#c6c6c6" stroke-width="2.4"/>
<ellipse cx="1294.6" cy="329.2" rx="104.5" ry="82.6" fill="none" stroke="#c6c6c6" stroke-width="2.4"/>
<ellipse cx="1294.6" cy="329.2" rx="90.5" ry="71.5" fill="none" stroke="#c6c6c6" stroke-width="2.4"/>
<ellipse cx="1294.6" cy="329.2" rx="76.8" ry="60.7" fill="none" stroke="#c6c6c6" stroke-width="2.4"/>
<ellipse cx="1294.6" cy="329.2" rx="63.4" ry="50.1" fill="none" stroke="#c6c6c6" stroke-width="2.4"/>
<ellipse cx="1294.6" cy="329.2" rx="50.4" ry="39.8" fill="none" stroke="#c6c6c6" stroke-width="2.4"/>
<ellipse cx="1294.6" cy="329.2" rx="37.6" ry="29.7" fill="none" stroke="#c6c6c6" stroke-width="2.4"/>
<ellipse cx="1294.6" cy="329.2" rx="25" ry="19.8" fill="none" stroke="#c6c6c6" stroke-width="2.4"/>
<ellipse cx="1284.1" cy="329.2" rx="8.8" ry="8.4" fill="none" stroke="#c9c9c9" stroke-width="2.6"/>
<ellipse cx="1305.1" cy="329.2" rx="8.8" ry="8.4" fill="none" stroke="#c9c9c9" stroke-width="2.6"/>
<path d="M1181 236Q1240 285 1284.5 322M1304.5 336Q1350 372 1386 397" stroke="#cdcdcd" stroke-width="3" fill="none"/>
<path d="M1411 234Q1350 285 1304.5 322M1284.5 336Q1240 372 1197 397" stroke="#cdcdcd" stroke-width="3" fill="none"/>
<circle cx="1180" cy="235" r="6" fill="#2a2a2a" stroke="#444" stroke-width="1"/>
</g>
<circle cx="1288.6" cy="294.0" r="144.0" fill="none" stroke="#E57A23" stroke-width="5.2"/>
<g clip-path="url(#c3)">
<rect x="0" y="740" width="300" height="304" fill="url(#g3)"/>
<path d="M33 760V1030" stroke="#f6f6f6" stroke-width="3"/>
<path d="M53 760V1030" stroke="#f3f3f3" stroke-width="2"/>
<polygon points="236.5,740.0 300.0,740.0 300.0,1045.0 226.5,1045.0" fill="url(#g3r)" />
<polygon points="230.0,960.0 300.0,950.0 300.0,1045.0 226.5,1045.0" fill="#1e1e1e" />
<path d="M236.5 740L226.5 1045" stroke="#f7f7f7" stroke-width="2.4"/>
<ellipse cx="138" cy="918" rx="22" ry="12" fill="#bdbdbd" filter="url(#blur3)"/>
<ellipse cx="145" cy="888" rx="27" ry="25.5" fill="#f0f0f0"/>
<ellipse cx="145.5" cy="888.5" rx="24.5" ry="23.5" fill="#4a4a4a"/>
<path d="M121.5 893Q119 872 140 865.5Q150 864 156 866Q136 870 130.5 889Z" fill="#e9e9e9"/>
<path d="M122 894Q124 880 131 874L137 880Q130 888 130 897Z" fill="#7a7a7a"/>
<path d="M124 883L133 873L138.5 879L130 888Z" fill="#fbfbfb"/>
<ellipse cx="150" cy="889" rx="19" ry="18.5" fill="#9a9a9a" stroke="#2e2e2e" stroke-width="1.6"/>
<path d="M134 884Q146 872 160 876Q156 880 150 881Q140 884 136 890Z" fill="#3a3a3a"/>
<path d="M160 876Q167 882 168 892L160 898Z" fill="#c9c9c9"/>
<polygon points="137.0,890.0 158.0,884.5 163.0,897.0 142.0,903.0" fill="#e6e6e6" />
<path d="M145 893h12M150 889.5v7M146 896.5h9" stroke="#2a2a2a" stroke-width="2"/>
<path d="M139.9 904L166.4 896.5L191.4 899.8Q199 903 200.5 908L199.7 919Q192 925 179.7 929L153.2 930.6Q143 926 139 918Z" fill="#2c2c2c"/>
<path d="M144 905.5L167 899L190 902Q196 905.5 197 909.5Q186 917 172 919L150 921Q143 916 142 911Z" fill="#414141"/>
<path d="M144 905.5L167 899L190 902Q196 905.5 197 909.5" stroke="#5a5a5a" stroke-width="1.2" fill="none"/>
</g>
<circle cx="150" cy="892" r="144.0" fill="none" stroke="#E57A23" stroke-width="5.2"/>
<g clip-path="url(#c4)">
<rect x="1140" y="700" width="305" height="300" fill="url(#g4)"/>
<path d="M1175.4 760V960" stroke="#f6f6f6" stroke-width="2.5"/>
<polygon points="1200.0,973.7 1445.0,897.2 1445.0,1000.0 1200.0,1000.0" fill="#e9e9e9" />
<path d="M1200 973.7L1445 897.2" stroke="#f4f4f4" stroke-width="1.6"/>
<path d="M1194.8 834.5V874.8M1204.1 832.8V872.7M1213.3 831.2V870.6M1222.4 829.5V868.6M1231.3 827.9V866.6M1240.1 826.3V864.6M1248.9 824.8V862.6M1257.5 823.2V860.7M1266.0 821.7V858.8M1274.4 820.2V856.9M1282.7 818.7V855.0M1290.9 817.2V853.2M1299.0 815.7V851.4M1307.0 814.3V849.6M1314.9 812.9V847.8M1322.7 811.5V846.1M1330.4 810.1V844.3M1338.0 808.7V842.6M1345.5 807.4V840.9M1352.9 806.0V839.3M1360.2 804.7V837.6M1367.4 803.4V836.0M1374.6 802.1V834.4M1381.6 800.8V832.8M1388.6 799.6V831.3M1395.4 798.4V829.7M1402.2 797.1V828.2M1408.9 795.9V826.7M1415.5 794.7V825.2M1422.1 793.6V823.7M1428.5 792.4V822.3M1434.9 791.2V820.9M1441.2 790.1V819.4" stroke="#f3f3f3" stroke-width="1.6" fill="none"/>
<path d="M1193.0 834.0V874.0M1202.3 832.3V871.9M1211.5 830.7V869.8M1220.6 829.0V867.8M1229.5 827.4V865.8M1238.3 825.8V863.8M1247.1 824.3V861.8M1255.7 822.7V859.9M1264.2 821.2V858.0M1272.6 819.7V856.1M1280.9 818.2V854.2M1289.1 816.7V852.4M1297.2 815.2V850.6M1305.2 813.8V848.8M1313.1 812.4V847.0M1320.9 811.0V845.3M1328.6 809.6V843.5M1336.2 808.2V841.8M1343.7 806.9V840.1M1351.1 805.5V838.5M1358.4 804.2V836.8M1365.6 802.9V835.2M1372.8 801.6V833.6M1379.8 800.3V832.0M1386.8 799.1V830.5M1393.6 797.9V828.9M1400.4 796.6V827.4M1407.1 795.4V825.9M1413.7 794.2V824.4M1420.3 793.1V822.9M1426.7 791.9V821.5M1433.1 790.7V820.1M1439.4 789.6V818.6" stroke="#6c6c6c" stroke-width="2.4" fill="none"/>
<path d="M1194.8 887.5V929.8M1204.1 885.4V927.2M1213.3 883.3V924.7M1222.4 881.3V922.2M1231.3 879.2V919.7M1240.1 877.2V917.2M1248.9 875.2V914.8M1257.5 873.3V912.4M1266.0 871.4V910.1M1274.4 869.4V907.7M1282.7 867.6V905.4M1290.9 865.7V903.1M1299.0 863.9V900.9M1307.0 862.1V898.7M1314.9 860.3V896.5M1322.7 858.5V894.3M1330.4 856.8V892.2M1338.0 855.0V890.1M1345.5 853.3V888.0M1352.9 851.7V886.0M1360.2 850.0V883.9M1367.4 848.4V881.9M1374.6 846.7V879.9M1381.6 845.1V878.0M1388.6 843.6V876.1M1395.4 842.0V874.2M1402.2 840.5V872.3M1408.9 839.0V870.4M1415.5 837.5V868.6M1422.1 836.0V866.8M1428.5 834.5V865.0M1434.9 833.1V863.2M1441.2 831.6V861.5" stroke="#f3f3f3" stroke-width="1.6" fill="none"/>
<path d="M1193.0 887.0V929.0M1202.3 884.9V926.4M1211.5 882.8V923.9M1220.6 880.8V921.4M1229.5 878.7V918.9M1238.3 876.7V916.4M1247.1 874.7V914.0M1255.7 872.8V911.6M1264.2 870.9V909.3M1272.6 868.9V906.9M1280.9 867.1V904.6M1289.1 865.2V902.3M1297.2 863.4V900.1M1305.2 861.6V897.9M1313.1 859.8V895.7M1320.9 858.0V893.5M1328.6 856.3V891.4M1336.2 854.5V889.3M1343.7 852.8V887.2M1351.1 851.2V885.2M1358.4 849.5V883.1M1365.6 847.9V881.1M1372.8 846.2V879.1M1379.8 844.6V877.2M1386.8 843.1V875.3M1393.6 841.5V873.4M1400.4 840.0V871.5M1407.1 838.5V869.6M1413.7 837.0V867.8M1420.3 835.5V866.0M1426.7 834.0V864.2M1433.1 832.6V862.4M1439.4 831.1V860.7" stroke="#6c6c6c" stroke-width="2.4" fill="none"/>
<polygon points="1200.0,1014.1 1445.0,927.1 1445.0,1002.0 1200.0,1002.0" fill="#ffffff" />
<path d="M1212.0 1006.3L1241.1 966.4M1220.8 1003.2L1249.5 963.7M1229.6 1000.1L1258.0 961.1M1238.4 996.9L1266.4 958.5M1247.2 993.8L1274.9 955.8M1256.0 990.7L1283.3 953.2M1264.8 987.6L1291.8 950.5M1273.6 984.4L1300.2 947.9M1282.4 981.3L1308.7 945.3M1291.2 978.2L1317.1 942.6M1300.0 975.1L1325.6 940.0M1308.8 972.0L1334.0 937.3M1317.6 968.8L1342.5 934.7M1326.4 965.7L1350.9 932.1M1335.2 962.6L1359.4 929.4M1344.0 959.5L1367.8 926.8M1352.8 956.3L1376.3 924.1M1361.6 953.2L1384.7 921.5M1370.4 950.1L1393.1 918.9M1379.2 947.0L1401.6 916.2M1388.0 943.9L1410.0 913.6M1396.8 940.7L1418.5 911.0M1405.6 937.6L1426.9 908.3M1414.4 934.5L1435.4 905.7M1423.2 931.4L1443.8 903.0M1432.0 928.2L1452.3 900.4" stroke="#858585" stroke-width="1.6" fill="none"/>
</g>
<circle cx="1291.3" cy="850.0" r="144.0" fill="none" stroke="#E57A23" stroke-width="5.2"/>
<path d="M296 418.1H654.5V529" stroke="#BE7538" stroke-width="2.4" fill="none" stroke-linejoin="miter"/>
<circle cx="654.4" cy="529.2" r="9.7" fill="#E57A23"/>
<path d="M1143 292.2H843.1V553" stroke="#BE7538" stroke-width="2.4" fill="none" stroke-linejoin="miter"/>
<circle cx="842.9" cy="553.4" r="9.7" fill="#E57A23"/>
<path d="M384 672.1H311.3V890M296 890H525" stroke="#BE7538" stroke-width="2.4" fill="none" stroke-linejoin="miter"/>
<circle cx="383.6" cy="672" r="9.7" fill="#E57A23"/>
<circle cx="525.3" cy="889.6" r="9.7" fill="#E57A23"/>
<path d="M968 823.1H1147" stroke="#BE7538" stroke-width="2.4" fill="none" stroke-linejoin="miter"/>
<circle cx="968.6" cy="823" r="9.7" fill="#E57A23"/>
<path d="M890.7 1007V1207" stroke="#BE7538" stroke-width="2.4" fill="none" stroke-linejoin="miter"/>
<circle cx="890.8" cy="1007.4" r="9.7" fill="#E57A23"/>
<text x="356.5" y="48" font-size="61" font-weight="bold" fill="#E07A22" textLength="728.5" lengthAdjust="spacingAndGlyphs">Standard Wall Mount Server Cabinet</text>
<text x="482" y="109" font-size="47.5" font-weight="normal" fill="#D2782C" textLength="488" lengthAdjust="spacingAndGlyphs" stroke="#ffffff" stroke-width="0.9">Designed for Cooling</text>
<text x="310.4" y="319.4" font-size="32.7" font-weight="normal" fill="#C47734" textLength="199.6" lengthAdjust="spacingAndGlyphs" stroke="#ffffff" stroke-width="0.7">Cover panels</text>
<text x="311" y="355.3" font-size="22.3" font-weight="normal" fill="#C57F3F" textLength="409.5" lengthAdjust="spacingAndGlyphs" stroke="#ffffff" stroke-width="0.3">Removable top and bottom panel for</text>
<text x="311.4" y="383.4" font-size="22.3" font-weight="normal" fill="#C57F3F" textLength="267.5" lengthAdjust="spacingAndGlyphs" stroke="#ffffff" stroke-width="0.3">easy cable management</text>
<text x="859.4" y="336" font-size="32.7" font-weight="normal" fill="#C47734" textLength="176.5" lengthAdjust="spacingAndGlyphs" stroke="#ffffff" stroke-width="0.7">Cooling fan</text>
<text x="859.6" y="370.3" font-size="22.3" font-weight="normal" fill="#C57F3F" textLength="218.8" lengthAdjust="spacingAndGlyphs" stroke="#ffffff" stroke-width="0.3">One-built-in top fan</text>
<text x="858.8" y="399" font-size="22.3" font-weight="normal" fill="#C57F3F" textLength="192.8" lengthAdjust="spacingAndGlyphs" stroke="#ffffff" stroke-width="0.3">increases air flow</text>
<text x="6.2" y="1090" font-size="32.7" font-weight="normal" fill="#C47734" textLength="399.8" lengthAdjust="spacingAndGlyphs" stroke="#ffffff" stroke-width="0.7">Lockable door&amp;side panels</text>
<text x="6.1" y="1125.6" font-size="22.3" font-weight="normal" fill="#C57F3F" textLength="326.8" lengthAdjust="spacingAndGlyphs" stroke="#ffffff" stroke-width="0.3">Ensure the utmost protection</text>
<text x="7.1" y="1153.8" font-size="22.3" font-weight="normal" fill="#C57F3F" textLength="313" lengthAdjust="spacingAndGlyphs" stroke="#ffffff" stroke-width="0.3">against unauthorized access</text>
<text x="449.8" y="1255" font-size="32.7" font-weight="normal" fill="#C47734" textLength="541" lengthAdjust="spacingAndGlyphs" stroke="#ffffff" stroke-width="0.7">Reversible and removable front door</text>
<text x="450.8" y="1293" font-size="22.3" font-weight="normal" fill="#C57F3F" textLength="493.8" lengthAdjust="spacingAndGlyphs" stroke="#ffffff" stroke-width="0.3">Door can be opened towards the right or left</text>
<text x="1104" y="1048.6" font-size="32.7" font-weight="normal" fill="#C47734" textLength="316.5" lengthAdjust="spacingAndGlyphs" stroke="#ffffff" stroke-width="0.7">Side ventilation holes</text>
<text x="1104" y="1084.2" font-size="22.3" font-weight="normal" fill="#C57F3F" textLength="322.5" lengthAdjust="spacingAndGlyphs" stroke="#ffffff" stroke-width="0.3">Increase ventilation area and</text>
<text x="1105" y="1112" font-size="22.3" font-weight="normal" fill="#C57F3F" textLength="338.5" lengthAdjust="spacingAndGlyphs" stroke="#ffffff" stroke-width="0.3">maintain temperature balance</text>
</svg>
</body></html>
